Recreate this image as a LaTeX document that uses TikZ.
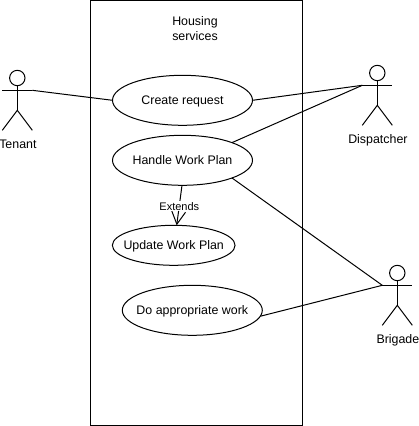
\documentclass[tikz,border=0pt]{standalone}
\usepackage{fontspec}
\setmainfont{Liberation Sans}
\usetikzlibrary{shapes.geometric,arrows.meta}
\tikzset{
  every picture/.style={x=1pt,y=-1pt},
  ln/.style={draw=black,line width=1pt},
  txt/.style={font=\fontsize{12.4}{15}\selectfont},
  usecase/.style={ln,shape=ellipse,inner ysep=0pt,inner xsep=-30pt,outer sep=0pt,fill=white,txt,text height=9pt,text depth=0pt},
  actorlabel/.style={inner sep=0pt,txt,text height=9pt,text depth=0pt},
  actorhead/.style={ln,circle,inner sep=0pt,outer sep=0pt,minimum size=15.4pt},
  edgelabel/.style={fill=white,inner sep=1pt,font=\fontsize{11}{13}\selectfont,text height=8pt,text depth=0pt,yshift=-0.8pt},
  extendtip/.style={-{Straight Barb[length=13pt,width=14pt,line width=1pt]}}
}
\newcommand{\actorfig}[4]{%
  \node[actorhead] (#1head) at (#2,#3) {};
  \coordinate (#1neck) at (#2,#3+7.7);
  \coordinate (#1l) at (#2-15,#3+12.3);
  \coordinate (#1r) at (#2+15,#3+12.3);
  \coordinate (#1waist) at (#2,#3+32.3);
  \coordinate (#1fl) at (#2-15,#3+52.3);
  \coordinate (#1fr) at (#2+15,#3+52.3);
  \draw[ln] (#1head) -- (#1waist);
  \draw[ln] (#1l) -- (#1r);
  \draw[ln] (#1fl) -- (#1waist) -- (#1fr);
  \node[actorlabel] (#1label) at (#2+0.6,#3+65.6) {#4};
}
\begin{document}
\begin{tikzpicture}
  \useasboundingbox (0,0) rectangle (418,426);
  \node[ln,rectangle,inner sep=0pt,outer sep=0pt,minimum width=212.5pt,minimum height=425pt] (system) at (196.25,213) {};
  \node[inner sep=0pt,align=center,txt] (title) at (195,28.5) {Housing\\services};

  \actorfig{tenant}{17.3}{78}{Tenant}
  \actorfig{disp}{377.3}{73}{Dispatcher}
  \actorfig{brig}{397.3}{273}{Brigade}

  \node[usecase,minimum width=140pt,minimum height=50pt] (create) at (182.5,100.3) {Create request};
  \node[usecase,minimum width=140pt,minimum height=50pt] (handle) at (182.5,160.3) {Handle Work Plan};
  \node[usecase,minimum width=122.7pt,minimum height=40pt] (update) at (173.7,245.3) {Update Work Plan};
  \node[usecase,minimum width=140pt,minimum height=50pt] (work) at (192.3,310.3) {Do appropriate work};

  \draw[ln] (tenantr) -- (create.west);
  \draw[ln] (create.east) -- (displ);
  \draw[ln] (handle.north east) -- (displ);
  \draw[ln] (handle.south east) -- (brigl);
  \draw[ln] (work.-5) -- (brigl);
  \draw[ln,extendtip] ([xshift=-0.5pt]handle.south) -- ([xshift=3pt]update.north) node[edgelabel,pos=0.5] (extlabel) {Extends};
\end{tikzpicture}
\end{document}
